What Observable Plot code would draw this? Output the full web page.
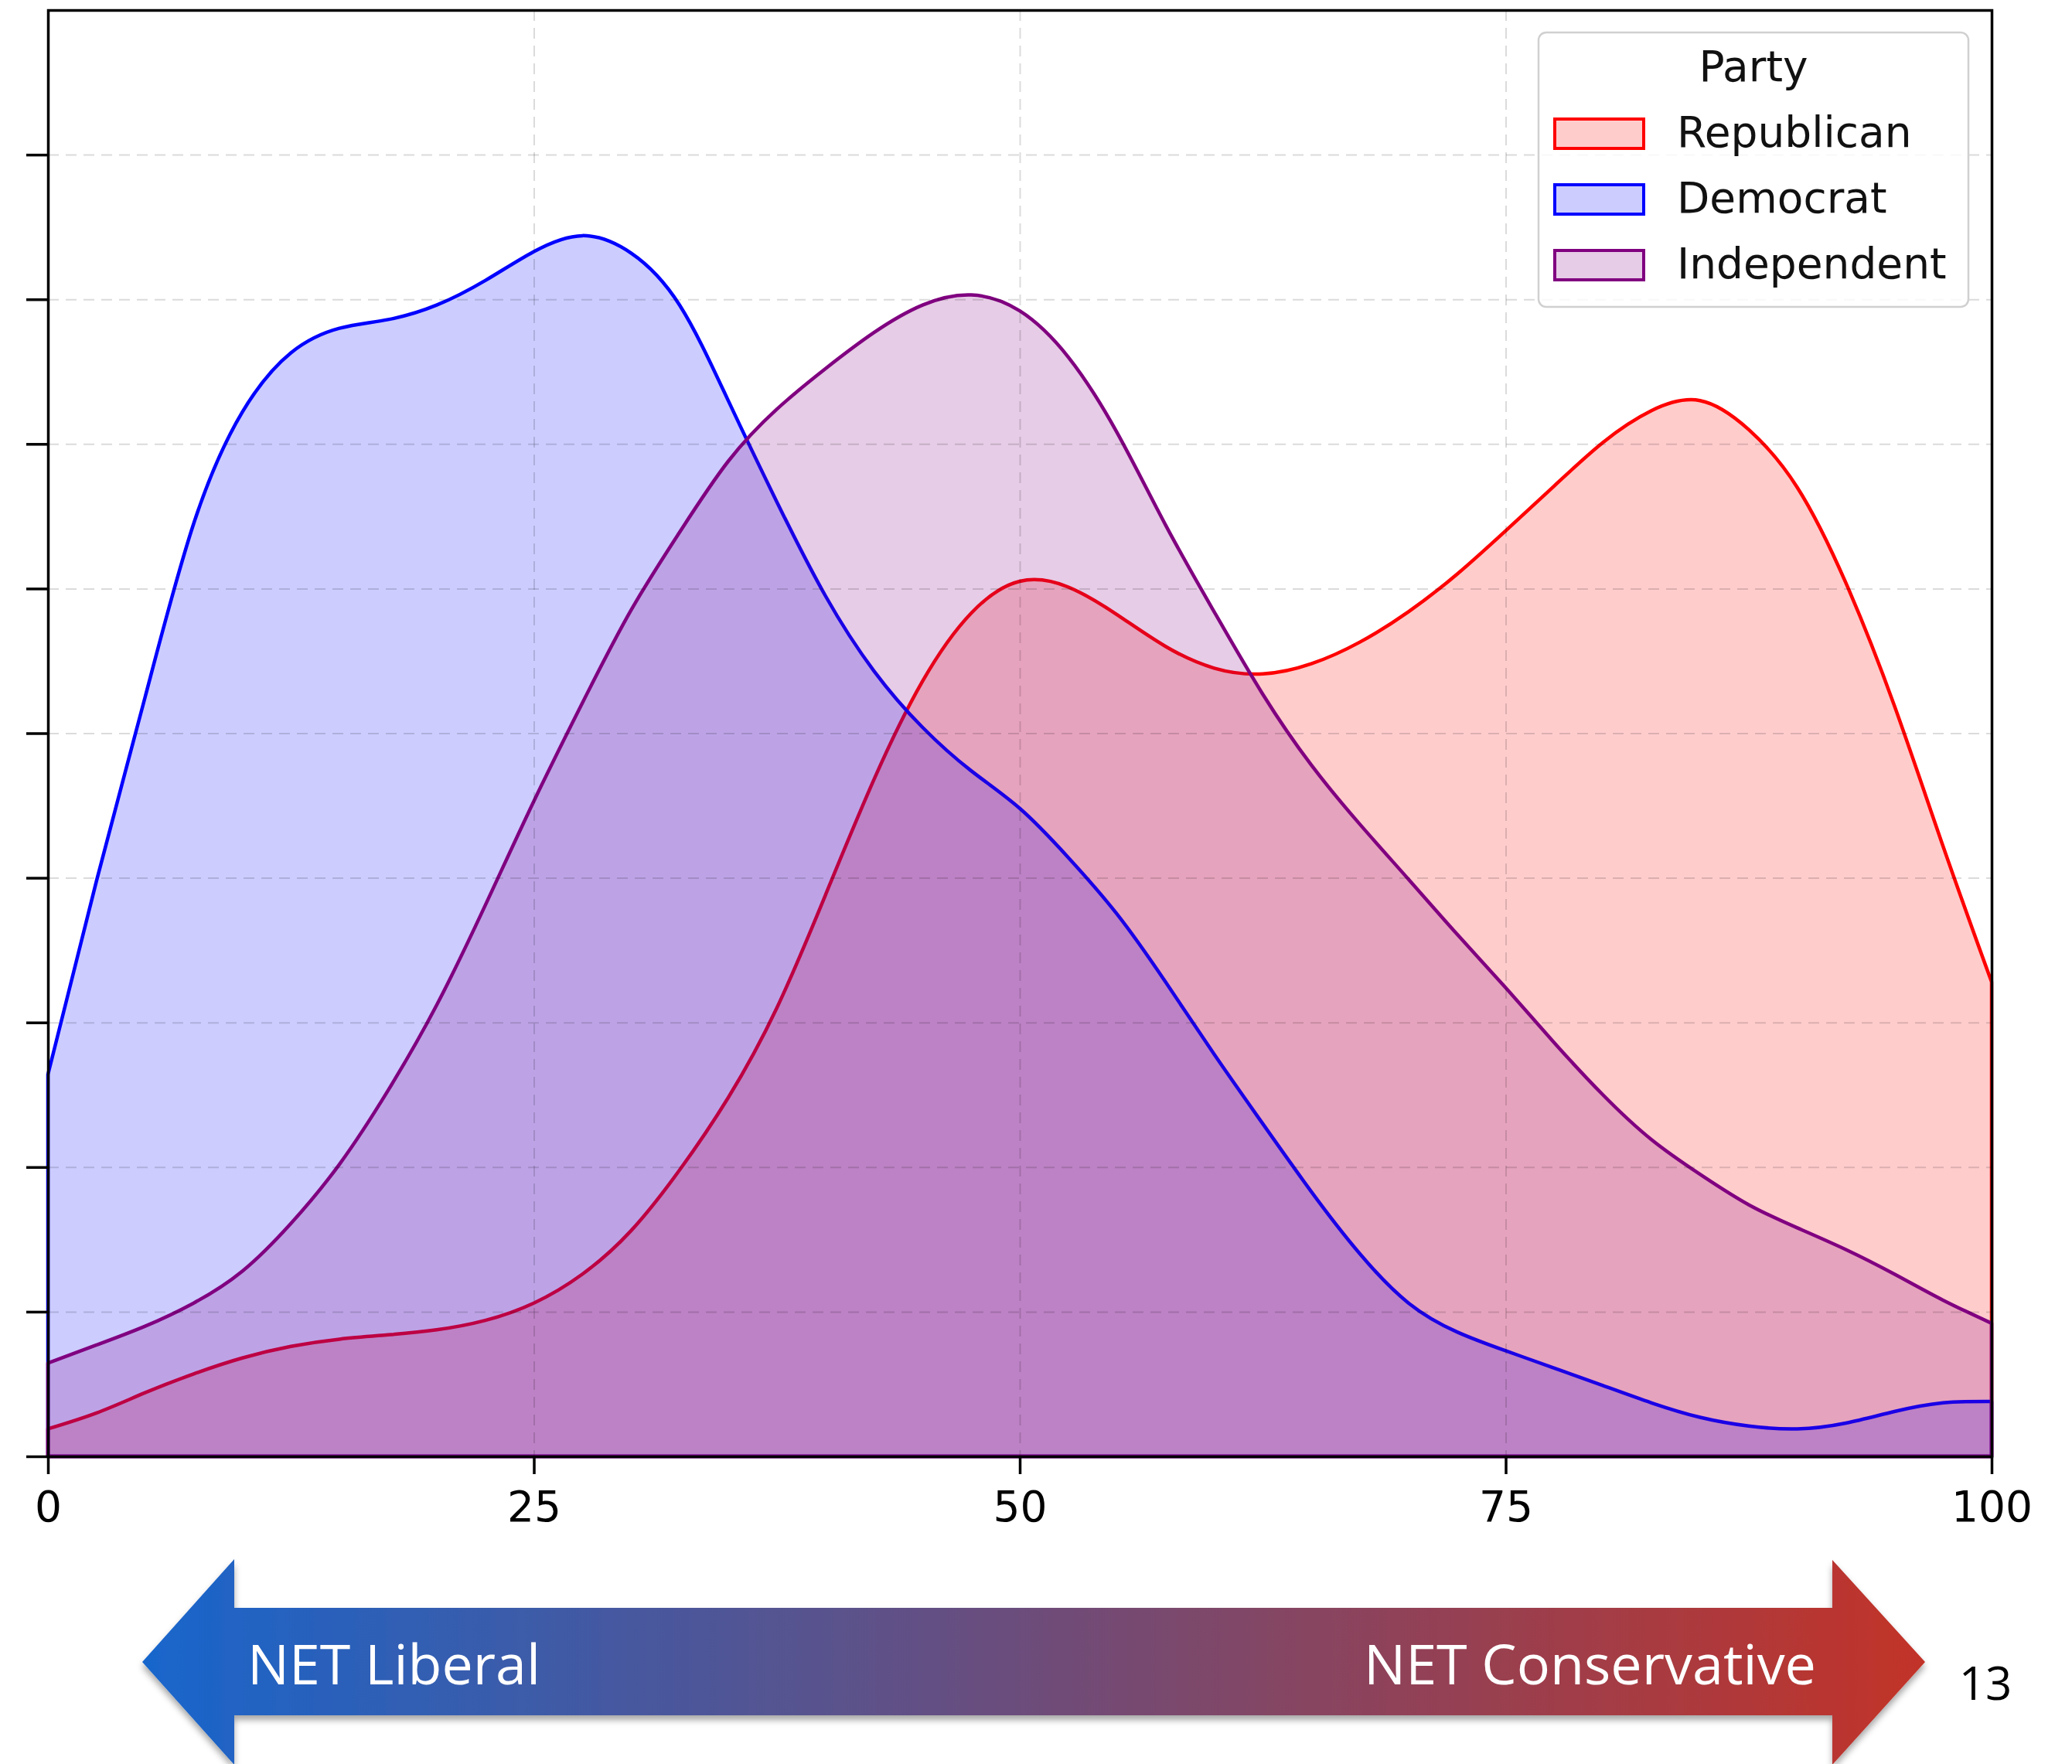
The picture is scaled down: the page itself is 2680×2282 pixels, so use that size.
<!DOCTYPE html>
<html>
<head>
<meta charset="utf-8">
<script src="https://cdn.jsdelivr.net/npm/d3@7"></script>
<script src="https://cdn.jsdelivr.net/npm/@observablehq/plot@0.6"></script>
<style>
  html, body { margin: 0; padding: 0; background: #fff; }
  #wrap { position: relative; width: 2680px; height: 2282px; overflow: hidden; background: #fff; }
  #wrap svg.overlay { position: absolute; left: 0; top: 0; pointer-events: none; }
</style>
</head>
<body>
<div id="wrap"></div>
<script>
// ---- data (density in y-tick units) ----
const xValues = [0, 2.5, 5, 7.5, 10, 12.5, 15, 17.5, 20, 22.5, 25, 27.5, 30, 32.5, 35, 37.5, 40, 42.5, 45, 47.5, 50,
                 52.5, 55, 57.5, 60, 62.5, 65, 67.5, 70, 72.5, 75, 77.5, 80, 82.5, 85, 87.5, 90, 92.5, 95, 97.5, 100];
const republican = [0.19, 0.30, 0.44, 0.57, 0.68, 0.76, 0.81, 0.84, 0.875, 0.94, 1.06, 1.26, 1.56, 1.98, 2.48, 3.10, 3.88, 4.68, 5.36, 5.83, 6.05,
                    6.01, 5.82, 5.60, 5.45, 5.41, 5.48, 5.63, 5.84, 6.10, 6.40, 6.71, 7.01, 7.23, 7.30, 7.10, 6.70, 6.04, 5.19, 4.22, 3.28];
const democrat = [2.64, 3.98, 5.25, 6.45, 7.22, 7.63, 7.80, 7.86, 7.96, 8.13, 8.33, 8.44, 8.32, 7.96, 7.30, 6.60, 5.95, 5.43, 5.04, 4.74, 4.48,
                  4.14, 3.75, 3.28, 2.78, 2.30, 1.83, 1.40, 1.06, 0.86, 0.73, 0.61, 0.49, 0.37, 0.27, 0.21, 0.19, 0.23, 0.31, 0.37, 0.38];
const independent = [0.645, 0.77, 0.90, 1.06, 1.28, 1.61, 2.02, 2.53, 3.12, 3.81, 4.53, 5.21, 5.85, 6.39, 6.88, 7.24, 7.52, 7.77, 7.96, 8.03, 7.92,
                     7.60, 7.08, 6.44, 5.84, 5.27, 4.78, 4.37, 3.99, 3.61, 3.24, 2.86, 2.50, 2.19, 1.95, 1.74, 1.58, 1.43, 1.26, 1.08, 0.92];
const parties = ["Republican", "Democrat", "Independent"];
const partyColors = ["red", "blue", "purple"];
const xTicks = [0, 25, 50, 75, 100];
const yTicks = [0, 1, 2, 3, 4, 5, 6, 7, 8, 9];
const legendTitle = "Party";
const leftLabel = "NET Liberal";
const rightLabel = "NET Conservative";
const pageNumber = "13";

// ---- tidy table ----
const seriesValues = [republican, democrat, independent];
const rows = [];
parties.forEach((p, i) => xValues.forEach((x, j) => rows.push({party: p, x, density: seriesValues[i][j]})));

const W = 2680, H = 2000;
const font = "DejaVu Sans, sans-serif";

const areaMarks = parties.map((p, i) =>
  Plot.areaY(rows.filter(d => d.party === p), {
    x: "x", y: "density", curve: "natural",
    fill: partyColors[i], fillOpacity: 0.2,
    stroke: partyColors[i], strokeWidth: 4.5, strokeLinejoin: "round"
  })
);

const chart = Plot.plot({
  width: W,
  height: H,
  marginLeft: 62,
  marginRight: 104,
  marginTop: 13,
  marginBottom: H - 1884,
  style: {fontFamily: font, fontSize: "55px", color: "black", background: "white", overflow: "visible"},
  x: {domain: [0, 100]},
  y: {domain: [0, 10]},
  marks: [
    ...areaMarks,
    Plot.gridX({ticks: xTicks, stroke: "#000", strokeOpacity: 0.14, strokeWidth: 2, strokeDasharray: "14,9"}),
    Plot.gridY({ticks: yTicks, stroke: "#000", strokeOpacity: 0.14, strokeWidth: 2, strokeDasharray: "14,9"}),
    Plot.axisX({ticks: xTicks, tickSize: 23, tickPadding: 21, strokeWidth: 3.5, label: null, fontSize: 55, fill: "black", tickFormat: d => String(d)}),
    Plot.axisY({ticks: yTicks, tickSize: 28, strokeWidth: 3.5, label: null, tickFormat: () => ""}),
    Plot.frame({stroke: "black", strokeWidth: 3.5})
  ]
});
const wrap = document.getElementById("wrap");
wrap.appendChild(chart);

// ---- overlays: legend, arrow, page number ----
const ns = "http://www.w3.org/2000/svg";
const ov = d3.select(wrap).append("svg")
  .attr("class", "overlay")
  .attr("xmlns", ns)
  .attr("width", 2680).attr("height", 2282)
  .attr("viewBox", "0 0 2680 2282");

// legend
const lg = ov.append("g").attr("font-family", font).attr("font-size", 55);
lg.append("rect").attr("x", 1990).attr("y", 42).attr("width", 556).attr("height", 355)
  .attr("rx", 10).attr("fill", "white").attr("fill-opacity", 0.8)
  .attr("stroke", "#d0d0d0").attr("stroke-width", 2.5);
lg.append("text").attr("x", 2268).attr("y", 105).attr("text-anchor", "middle").attr("fill", "#111").text(legendTitle);
parties.forEach((p, i) => {
  const top = 154 + i * 85;
  lg.append("rect").attr("x", 2011).attr("y", top).attr("width", 115).attr("height", 38)
    .attr("fill", partyColors[i]).attr("fill-opacity", 0.2)
    .attr("stroke", partyColors[i]).attr("stroke-width", 4);
  lg.append("text").attr("x", 2169).attr("y", top + 36).attr("fill", "#111").text(p);
});

// arrow
const defs = ov.append("defs");
const grad = defs.append("linearGradient").attr("id", "arrowGrad")
  .attr("gradientUnits", "userSpaceOnUse").attr("x1", 184).attr("x2", 2490).attr("y1", 0).attr("y2", 0);
grad.append("stop").attr("offset", 0).attr("stop-color", "#1866CC");
grad.append("stop").attr("offset", 1).attr("stop-color", "#C23328");
const flt = defs.append("filter").attr("id", "shadow").attr("x", -0.05).attr("y", -0.3).attr("width", 1.1).attr("height", 1.6);
flt.append("feDropShadow").attr("dx", 0).attr("dy", 6).attr("stdDeviation", 4)
  .attr("flood-color", "#000").attr("flood-opacity", 0.35);

ov.append("path")
  .attr("d", "M184,2150 L303,2017 L303,2080 L2370,2080 L2370,2018 L2490,2150 L2370,2283 L2370,2219 L303,2219 L303,2283 Z")
  .attr("fill", "url(#arrowGrad)")
  .attr("filter", "url(#shadow)");

const af = "Open Sans, Noto Sans, sans-serif";
ov.append("text").attr("x", 320).attr("y", 2179).attr("font-family", af).attr("font-size", 72)
  .attr("fill", "white").attr("textLength", 379).attr("lengthAdjust", "spacingAndGlyphs").text(leftLabel);
ov.append("text").attr("x", 2349).attr("y", 2179).attr("text-anchor", "end").attr("font-family", af).attr("font-size", 72)
  .attr("fill", "white").attr("textLength", 585).attr("lengthAdjust", "spacingAndGlyphs").text(rightLabel);
ov.append("text").attr("x", 2568).attr("y", 2199).attr("text-anchor", "middle").attr("font-family", af).attr("font-size", 60)
  .attr("fill", "black").text(pageNumber);
</script>
</body>
</html>
